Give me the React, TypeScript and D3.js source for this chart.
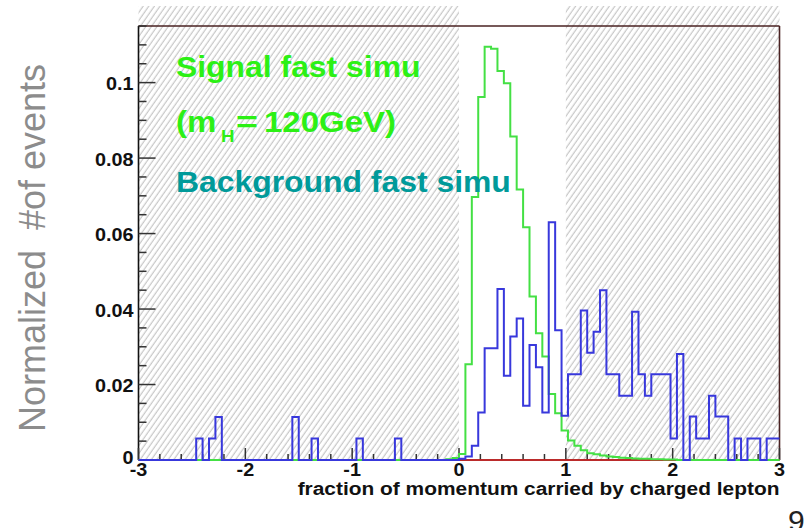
import React from "react";
import * as d3 from "d3";

// ---- Data ----
const binEdgesMin = -3;
const binEdgesMax = 3;
const nBins = 100;

// Signal fast simu (green), 100 bins from -3 to 3
const signalValues: number[] = [
  0, 0, 0, 0, 0, 0, 0, 0, 0, 0,
  0, 0, 0, 0, 0, 0, 0, 0, 0, 0,
  0, 0, 0, 0, 0, 0, 0, 0, 0, 0,
  0, 0, 0, 0, 0, 0, 0, 0, 0, 0,
  0, 0, 0, 0, 0, 0, 0, 0, 0.0002, 0.0005,
  0.0016, 0.0254, 0.0697, 0.0962, 0.1095, 0.109, 0.1031, 0.0998, 0.0857, 0.0717,
  0.0617, 0.0433, 0.0336, 0.0274, 0.0175, 0.0124, 0.0078, 0.0052, 0.0038, 0.0026,
  0.0018, 0.0015, 0.0012, 0.0009, 0.0008, 0.0006, 0.0005, 0.0004, 0.0003, 0.0003,
  0.0002, 0.0002, 0.0001, 0.0001, 0, 0, 0, 0, 0, 0,
  0, 0, 0, 0, 0, 0, 0, 0, 0, 0,
];

// Background fast simu (blue)
const backgroundValues: number[] = [
  0, 0, 0, 0, 0, 0, 0, 0, 0, 0.0057,
  0, 0.0057, 0.0114, 0, 0, 0, 0, 0, 0, 0,
  0, 0, 0, 0, 0.0114, 0, 0, 0.0057, 0, 0,
  0, 0, 0, 0, 0.0057, 0, 0, 0, 0, 0,
  0.0057, 0, 0, 0, 0, 0, 0, 0, 0, 0,
  0.0003, 0.0009, 0.0038, 0.0126, 0.0296, 0.0296, 0.0453, 0.0223, 0.0327, 0.0375,
  0.0144, 0.0305, 0.0246, 0.0126, 0.063, 0.0344, 0.0117, 0.0227, 0.0227, 0.0396,
  0.0284, 0.034, 0.045, 0.0227, 0.0227, 0.017, 0.017, 0.0393, 0.0227, 0.017,
  0.0227, 0.0227, 0.0227, 0.0057, 0.0281, 0, 0.0115, 0.0057, 0.0057, 0.017,
  0.0115, 0.0115, 0, 0.0057, 0, 0.0057, 0.0057, 0, 0.0057, 0.0057,
];

const hatchRanges: [number, number][] = [
  [-3, 0],
  [1, 3],
];
const hatchTop = 0.1203;

const xTickValues = [-3, -2, -1, 0, 1, 2, 3];
const xTickLabels = ["-3", "-2", "-1", "0", "1", "2", "3"];
const yTickValues = [0, 0.02, 0.04, 0.06, 0.08, 0.1];
const yTickLabels = ["0", "0.02", "0.04", "0.06", "0.08", "0.1"];
const yMax = 0.115;

const xTitle = "fraction of momentum carried by charged lepton";
const yTitle = "Normalized  #of events";
const legendSignal = "Signal fast simu";
const legendMassPrefix = "(m";
const legendMassSub = "H";
const legendMassEq = "=";
const legendMassValue = "120GeV)";
const legendBackground = "Background fast simu";
const pageNumber = "9";

// ---- Layout ----
const W = 809;
const H = 528;
const left = 138.5;
const right = 779.5;
const top = 26;
const bottom = 460;
const SX = 1.1; // horizontal stretch of the original raster text
const FONT = "'Liberation Sans', Arial, Helvetica, sans-serif";
const GREEN_TEXT = "#2cf015";

const x = d3.scaleLinear().domain([binEdgesMin, binEdgesMax]).range([left, right]);
const y = d3.scaleLinear().domain([0, yMax]).range([bottom, top]);

function stepPath(values: number[]): string {
  const bw = (binEdgesMax - binEdgesMin) / nBins;
  const pts: [number, number][] = values.map((v, i) => [binEdgesMin + i * bw, v]);
  pts.push([binEdgesMax, values[values.length - 1]]);
  const line = d3
    .line<[number, number]>()
    .x((d) => x(d[0]))
    .y((d) => y(d[1]))
    .curve(d3.curveStepAfter);
  return line(pts) || "";
}

export default function App() {
  const minorY = d3.range(0, yMax + 1e-9, 0.005).filter(
    (v) => !yTickValues.some((t) => Math.abs(t - v) < 1e-9)
  );
  const minorX = d3.range(-3, 3 + 1e-9, 0.2).filter(
    (v) => Math.abs(v - Math.round(v)) > 1e-6
  );

  return (
    <svg
      width={W}
      height={H}
      viewBox={`0 0 ${W} ${H}`}
      style={{ position: "absolute", left: 0, top: 0, background: "#fff" }}
      fontFamily={FONT}
    >
      <defs>
        <pattern
          id="hatch"
          patternUnits="userSpaceOnUse"
          width={4.6}
          height={10}
          patternTransform="rotate(35)"
        >
          <line x1={1.2} y1={-1} x2={1.2} y2={11} stroke="#c2c2c2" strokeWidth={1.1} />
        </pattern>
      </defs>

      {/* hatched regions */}
      {hatchRanges.map(([a, b], i) => (
        <rect
          key={"h" + i}
          x={x(a)}
          y={y(hatchTop)}
          width={x(b) - x(a)}
          height={bottom - y(hatchTop)}
          fill="url(#hatch)"
        />
      ))}

      {/* frame */}
      <line x1={left} y1={top} x2={right} y2={top} stroke="#4a2222" strokeWidth={1.6} />
      <line x1={right} y1={top} x2={right} y2={bottom} stroke="#4a2222" strokeWidth={1.6} />
      <line x1={left} y1={top} x2={left} y2={bottom} stroke="#111" strokeWidth={1.6} />
      <line x1={left} y1={bottom} x2={right} y2={bottom} stroke="#111" strokeWidth={1.6} />

      {/* y ticks */}
      {yTickValues.map((v) => (
        <line key={"yt" + v} x1={left} x2={left + 17} y1={y(v)} y2={y(v)} stroke="#333" strokeWidth={1.5} />
      ))}
      {minorY.map((v) => (
        <line key={"ym" + v} x1={left} x2={left + 8} y1={y(v)} y2={y(v)} stroke="#333" strokeWidth={1.5} />
      ))}
      {/* x ticks */}
      {xTickValues.map((v) => (
        <line key={"xt" + v} x1={x(v)} x2={x(v)} y1={bottom} y2={bottom - 12} stroke="#333" strokeWidth={1.5} />
      ))}
      {minorX.map((v) => (
        <line key={"xm" + v.toFixed(2)} x1={x(v)} x2={x(v)} y1={bottom} y2={bottom - 6} stroke="#333" strokeWidth={1.5} />
      ))}

      {/* baseline red */}
      <line x1={left} y1={bottom} x2={right} y2={bottom} stroke="#e02020" strokeWidth={1.6} />

      {/* histograms */}
      <path d={stepPath(signalValues)} fill="none" stroke="#44e044" strokeWidth={2} />
      <path d={stepPath(backgroundValues)} fill="none" stroke="#3838dc" strokeWidth={2} />

      {/* y tick labels */}
      {yTickValues.map((v, i) => (
        <text
          key={"yl" + v}
          transform={`translate(${left - 5},${v === 0 ? bottom + 3.5 : y(v) + 7.5}) scale(${SX},1)`}
          textAnchor="end"
          fontSize={18}
          fontWeight="bold"
          fill="#111"
        >
          {yTickLabels[i]}
        </text>
      ))}
      {/* x tick labels */}
      {xTickValues.map((v, i) => (
        <text
          key={"xl" + v}
          transform={`translate(${x(v)},476) scale(${SX},1)`}
          textAnchor="middle"
          fontSize={18}
          fontWeight="bold"
          fill="#111"
        >
          {xTickLabels[i]}
        </text>
      ))}

      {/* x title */}
      <text
        transform={`translate(${right},495) scale(${SX},1)`}
        textAnchor="end"
        fontSize={19}
        fontWeight="bold"
        fill="#111"
      >
        {xTitle}
      </text>

      {/* y title */}
      <text
        transform="translate(45,248) rotate(-90)"
        textAnchor="middle"
        fontSize={36}
        fill="#8c8c8c"
        style={{ whiteSpace: "pre" }}
        xmlSpace="preserve"
      >
        {yTitle}
      </text>

      {/* legend texts */}
      <text
        transform={`translate(176,77) scale(${SX},1)`}
        fontSize={29}
        fontWeight="bold"
        fill={GREEN_TEXT}
      >
        {legendSignal}
      </text>
      <text
        transform={`translate(176,132) scale(${SX},1)`}
        fontSize={30}
        fontWeight="bold"
        fill={GREEN_TEXT}
      >
        {legendMassPrefix}
      </text>
      <text
        transform={`translate(221,141.5) scale(${SX},1)`}
        fontSize={17}
        fontWeight="bold"
        fill={GREEN_TEXT}
      >
        {legendMassSub}
      </text>
      <text
        transform={`translate(236,132) scale(1.25,1)`}
        fontSize={30}
        fontWeight="bold"
        fill={GREEN_TEXT}
      >
        {legendMassEq}
      </text>
      <text
        transform={`translate(264,132) scale(${SX},1)`}
        fontSize={30}
        fontWeight="bold"
        fill={GREEN_TEXT}
      >
        {legendMassValue}
      </text>
      <text
        transform={`translate(176,192) scale(${SX},1)`}
        fontSize={29}
        fontWeight="bold"
        fill="#009a9a"
      >
        {legendBackground}
      </text>

      {/* page number */}
      <text x={788} y={531} fontSize={30} fill="#222">
        {pageNumber}
      </text>
    </svg>
  );
}
